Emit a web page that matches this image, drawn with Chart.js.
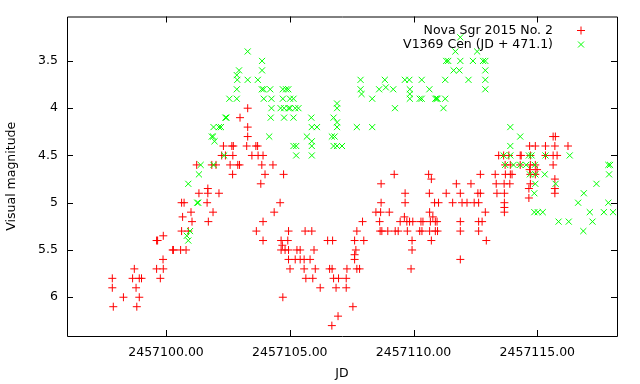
<!DOCTYPE html>
<html>
<head>
<meta charset="utf-8">
<script src="https://cdn.jsdelivr.net/npm/chart.js@4.4.0/dist/chart.umd.min.js"></script>
<style>
    html, body { margin: 0; padding: 0; background: #fff; }
</style>
</head>
<body>
<canvas id="Graph" width="640" height="384"></canvas>
<script>
// Nova Sgr 2015 No. 2 (red +)
const sgrJD = [
    2457097.83, 2457097.83, 2457097.87, 2457098.28, 2457098.65, 2457098.72, 2457098.79, 2457098.82, 2457098.92, 2457098.92,
    2457099.01, 2457099.62, 2457099.66, 2457099.62, 2457099.77, 2457099.89, 2457099.89, 2457099.88, 2457100.27, 2457100.30,
    2457100.59, 2457100.63, 2457100.63, 2457100.67, 2457100.73, 2457100.81, 2457100.90, 2457101.01, 2457101.05, 2457101.24,
    2457101.33, 2457101.66, 2457101.69, 2457101.69, 2457101.71, 2457101.85, 2457101.90, 2457102.02, 2457102.14, 2457102.25,
    2457102.32, 2457102.40, 2457102.59, 2457102.66, 2457102.69, 2457102.70, 2457102.72, 2457102.90, 2457102.97, 2457102.99,
    2457103.26, 2457103.30, 2457103.30, 2457103.30, 2457103.47, 2457103.63, 2457103.65, 2457103.70, 2457103.72, 2457103.83,
    2457103.87, 2457103.92, 2457103.92, 2457103.92, 2457104.00, 2457104.32, 2457104.37, 2457104.61, 2457104.65, 2457104.65,
    2457104.70, 2457104.72, 2457104.75, 2457104.81,
    2457104.92, 2457104.95, 2457104.95, 2457104.95, 2457105.01, 2457105.22, 2457105.29, 2457105.42, 2457105.42, 2457105.58,
    2457105.58, 2457105.62, 2457105.65, 2457105.82, 2457105.89, 2457105.93, 2457105.98, 2457106.03, 2457106.23, 2457106.53,
    2457106.61, 2457106.70, 2457106.71, 2457106.73, 2457106.77, 2457106.87, 2457106.95, 2457106.97, 2457107.28, 2457107.28,
    2457107.31, 2457107.55, 2457107.62, 2457107.62, 2457107.62, 2457107.67, 2457107.71, 2457107.71, 2457107.82, 2457107.94,
    2457107.99, 2457108.48, 2457108.63, 2457108.65, 2457108.67, 2457108.69, 2457108.69, 2457108.72, 2457108.96, 2457109.02,
    2457109.22, 2457109.26,
    2457109.38, 2457109.46, 2457109.63, 2457109.66, 2457109.66, 2457109.73, 2457109.75, 2457109.84, 2457109.90, 2457109.94,
    2457109.94, 2457109.97, 2457110.25, 2457110.30, 2457110.34, 2457110.38, 2457110.61, 2457110.64, 2457110.65, 2457110.65,
    2457110.68, 2457110.72, 2457110.72, 2457110.78, 2457110.85, 2457110.88, 2457110.88, 2457110.95, 2457110.97, 2457111.01,
    2457111.32, 2457111.58, 2457111.73, 2457111.89, 2457111.89, 2457111.89, 2457111.89, 2457111.96, 2457112.16, 2457112.32,
    2457112.45, 2457112.60, 2457112.63, 2457112.63, 2457112.63, 2457112.70, 2457112.70, 2457112.77, 2457112.90, 2457112.94,
    2457113.30, 2457113.34, 2457113.37, 2457113.44, 2457113.64, 2457113.66, 2457113.67, 2457113.67, 2457113.67, 2457113.67,
    2457113.70, 2457113.71,
    2457113.85, 2457113.89, 2457113.91, 2457113.91, 2457113.98, 2457114.31, 2457114.31, 2457114.35, 2457114.66, 2457114.66,
    2457114.69, 2457114.69, 2457114.72, 2457114.72, 2457114.72, 2457114.72, 2457114.92, 2457114.92, 2457114.92, 2457114.99,
    2457115.33, 2457115.33, 2457115.64, 2457115.64, 2457115.64, 2457115.71, 2457115.71, 2457115.71, 2457115.71, 2457115.73,
    2457115.80, 2457116.24
];
const sgrMag = [
    5.8, 5.9, 6.1, 6.0, 5.8, 5.7, 5.9, 6.1, 5.8, 6.0,
    5.8, 5.4, 5.4, 5.7, 5.8, 5.35, 5.7, 5.6, 5.5, 5.5,
    5.5, 5.0, 5.3, 5.15, 5.0, 5.5, 5.3, 5.1, 5.2, 4.6,
    4.9, 5.0, 4.85, 4.9, 5.2, 4.6, 5.1, 4.6, 4.9, 4.5,
    4.4, 4.5, 4.6, 4.4, 4.7, 4.5, 4.4, 4.6, 4.6, 4.1,
    4.4, 4.0, 4.2, 4.3, 4.5, 4.4, 5.3, 4.4, 4.5, 4.8,
    4.6, 4.5, 5.2, 5.4, 4.7, 4.6, 5.1, 5.0, 5.4, 5.5,
    5.45, 6.0, 4.7, 5.5,
    5.4, 5.3, 5.5, 5.6, 5.7, 5.6, 5.5, 5.5, 5.6, 5.6,
    5.7, 5.3, 5.8, 5.6, 5.3, 5.8, 5.5, 5.7, 5.9, 5.4,
    5.7, 6.3, 5.7, 5.4, 5.8, 5.9, 6.2, 5.8, 5.8, 5.9,
    5.7, 6.1, 5.4, 5.55, 5.6, 5.5, 5.3, 5.7, 5.7, 5.2,
    5.4, 5.1, 5.2, 5.3, 5.1, 4.8, 5.0, 5.3, 5.3, 5.1,
    4.7, 5.3,
    5.3, 5.2, 5.15, 4.9, 5.0, 5.2, 5.3, 5.2, 5.7, 5.4,
    5.5, 5.2, 5.3, 5.2, 5.3, 5.2, 4.7, 4.9, 5.1, 5.3,
    5.2, 4.75, 5.4, 5.15, 5.0, 5.2, 5.3, 5.2, 5.3, 5.0,
    4.9, 5.0, 4.8, 4.9, 5.2, 5.3, 5.6, 5.0, 5.0, 4.8,
    5.0, 4.9, 5.0, 5.2, 5.3, 4.7, 4.9, 5.2, 5.1, 5.4,
    4.7, 4.8, 4.9, 4.5, 4.5, 4.8, 4.9, 5.0, 5.05, 5.1,
    4.6, 4.7,
    4.5, 4.8, 4.6, 4.7, 4.7, 4.5, 4.6, 4.5, 4.85, 4.95,
    4.4, 4.65, 4.5, 4.6, 4.7, 4.8, 4.4, 4.6, 4.7, 4.65,
    4.4, 4.5, 4.3, 4.5, 4.6, 4.4, 4.75, 4.85, 4.9, 4.3,
    4.5, 4.4
];

// V1369 Cen, already shifted by JD + 471.1 (green x)
const cenJD = [
    2457100.84, 2457100.90, 2457100.90, 2457100.97, 2457101.26, 2457101.30, 2457101.33, 2457101.40, 2457101.85, 2457101.90,
    2457101.92, 2457101.92, 2457101.96, 2457102.14, 2457102.22, 2457102.35, 2457102.40, 2457102.44, 2457102.56, 2457102.86,
    2457102.86, 2457102.86, 2457102.88, 2457102.95, 2457103.30, 2457103.30, 2457103.71, 2457103.88, 2457103.88, 2457103.87,
    2457103.94, 2457103.95, 2457104.17, 2457104.21, 2457104.23, 2457104.26, 2457104.26, 2457104.63, 2457104.72, 2457104.77,
    2457104.77, 2457104.72, 2457104.85, 2457104.94, 2457104.95, 2457105.01, 2457105.01, 2457105.15, 2457105.15, 2457105.15,
    2457105.22, 2457105.26, 2457105.26, 2457105.35, 2457105.69, 2457105.87, 2457105.89, 2457105.89, 2457105.89, 2457105.89,
    2457106.10, 2457106.70, 2457106.77, 2457106.77, 2457106.81, 2457106.91, 2457106.91, 2457106.91, 2457106.91, 2457106.91,
    2457107.11, 2457107.71, 2457107.86, 2457107.86, 2457107.90, 2457108.33, 2457108.33, 2457108.61, 2457108.84, 2457108.88,
    2457109.18, 2457109.25, 2457109.65, 2457109.83, 2457109.85, 2457109.85, 2457109.85, 2457110.25, 2457110.33, 2457110.33,
    2457110.64, 2457110.88, 2457110.93, 2457110.97, 2457111.21, 2457111.28, 2457111.28, 2457111.32, 2457111.40, 2457111.62,
    2457111.69, 2457111.85, 2457111.89, 2457111.89, 2457112.22, 2457112.40, 2457112.57, 2457112.81, 2457112.90, 2457112.90,
    2457112.90, 2457112.90, 2457113.64, 2457113.70, 2457113.91, 2457113.91, 2457113.91, 2457114.04, 2457114.31, 2457114.31,
    2457114.55, 2457114.66, 2457114.70, 2457114.77, 2457114.88, 2457114.88, 2457114.90, 2457114.92, 2457114.92, 2457115.02,
    2457115.22, 2457115.30, 2457115.33, 2457115.74, 2457115.86, 2457116.27, 2457116.31, 2457116.65, 2457116.86, 2457116.88,
    2457117.12, 2457117.23, 2457117.39, 2457117.69, 2457117.87, 2457117.94, 2457117.90, 2457117.87, 2457118.06
];
const cenMag = [
    5.35, 4.8, 5.4, 5.3, 5.0, 5.0, 4.7, 4.6, 4.3, 4.3,
    4.2, 4.6, 4.35, 4.2, 4.2, 4.5, 4.1, 4.1, 3.9, 3.9,
    3.8, 3.65, 3.7, 3.6, 3.4, 3.7, 3.7, 3.5, 3.6, 3.8,
    3.8, 3.9, 4.3, 3.8, 4.1, 4.0, 3.9, 4.0, 3.8, 4.0,
    4.1, 3.9, 3.8, 3.8, 4.0, 3.9, 4.0, 3.9, 4.1, 4.4,
    4.0, 4.4, 4.5, 4.0, 4.3, 4.1, 4.2, 4.35, 4.4, 4.5,
    4.2, 4.3, 4.1, 4.4, 4.3, 3.95, 4.0, 4.15, 4.2, 4.4,
    4.4, 4.2, 3.7, 3.8, 3.85, 3.9, 4.2, 3.8, 3.7, 3.78,
    3.8, 4.0, 3.7, 3.7, 3.8, 3.85, 3.9, 3.9, 3.7, 3.9,
    3.8, 3.9, 3.9, 3.9, 4.0, 3.7, 3.9, 3.5, 3.5, 3.6,
    3.4, 3.6, 3.5, 3.25, 3.7, 3.5, 3.4, 3.5, 3.5, 3.6,
    3.7, 3.8, 4.5, 4.6, 4.2, 4.4, 4.5, 4.6, 4.3, 4.6,
    4.6, 4.5, 4.7, 4.5, 4.9, 5.1, 4.6, 4.8, 4.7, 5.1,
    5.1, 4.7, 4.5, 4.8, 5.2, 5.2, 4.5, 5.0, 5.3, 4.9,
    5.1, 5.2, 4.8, 5.1, 4.6, 4.6, 4.7, 5.0, 5.1
];

const seriesNames = ['Nova Sgr 2015 No. 2', 'V1369 Cen (JD + 471.1)'];
const jdTicks = [2457100, 2457105, 2457110, 2457115];
const magTicks = [3.5, 4, 4.5, 5, 5.5, 6];

const font = { family: 'DejaVu Sans', size: 12.5 };

function toPoints(xs, ys) {
    return xs.map((x, i) => ({ x: x, y: ys[i] }));
}

// gnuplot style box: frame, inward ticks on all sides, key in the top right corner
const framePlugin = {
    id: 'frame',
    afterDraw(chart) {
        const ctx = chart.ctx;
        const a = chart.chartArea;
        const sx = chart.scales.x;
        const sy = chart.scales.y;
        ctx.save();
        ctx.strokeStyle = '#000';
        ctx.lineWidth = 1;
        ctx.beginPath();
        ctx.rect(a.left + 0.5, a.top + 0.5, a.right - a.left, a.bottom - a.top);
        jdTicks.forEach(v => {
            const px = Math.round(sx.getPixelForValue(v)) + 0.5;
            ctx.moveTo(px, a.bottom); ctx.lineTo(px, a.bottom - 6);
            ctx.moveTo(px, a.top); ctx.lineTo(px, a.top + 6);
        });
        magTicks.forEach(v => {
            const py = Math.round(sy.getPixelForValue(v)) + 0.5;
            ctx.moveTo(a.left, py); ctx.lineTo(a.left + 6, py);
            ctx.moveTo(a.right, py); ctx.lineTo(a.right - 6, py);
        });
        ctx.stroke();

        // key
        ctx.font = font.size + 'px ' + font.family;
        ctx.fillStyle = '#000';
        ctx.textAlign = 'right';
        ctx.textBaseline = 'middle';
        const keyX = a.right - 64;
        const rowY = [a.top + 14, a.top + 28];
        seriesNames.forEach((name, i) => ctx.fillText(name, keyX, rowY[i]));
        const mx = a.right - 36;
        ctx.strokeStyle = '#ff0000';
        ctx.beginPath();
        ctx.moveTo(mx - 4, rowY[0]); ctx.lineTo(mx + 4, rowY[0]);
        ctx.moveTo(mx, rowY[0] - 4); ctx.lineTo(mx, rowY[0] + 4);
        ctx.stroke();
        ctx.strokeStyle = '#00ff00';
        ctx.beginPath();
        ctx.moveTo(mx - 3, rowY[1] - 3); ctx.lineTo(mx + 3, rowY[1] + 3);
        ctx.moveTo(mx - 3, rowY[1] + 3); ctx.lineTo(mx + 3, rowY[1] - 3);
        ctx.stroke();
        ctx.restore();
    }
};

const ctx = document.getElementById('Graph').getContext('2d');

new Chart(ctx, {
    type: 'scatter',
    data: {
        datasets: [{
            label: seriesNames[0],
            data: toPoints(sgrJD, sgrMag),
            pointStyle: 'cross',
            radius: 4,
            borderColor: '#ff0000',
            backgroundColor: '#ff0000',
            borderWidth: 1,
            order: 1
        }, {
            label: seriesNames[1],
            data: toPoints(cenJD, cenMag),
            pointStyle: 'crossRot',
            radius: 4.3,
            borderColor: '#00ff00',
            backgroundColor: '#00ff00',
            borderWidth: 1,
            order: 0
        }]
    },
    options: {
        responsive: false,
        animation: false,
        devicePixelRatio: 1,
        layout: { padding: { top: 16, right: 23, left: 0, bottom: 0 } },
        plugins: {
            legend: { display: false },
            tooltip: { enabled: false }
        },
        scales: {
            x: {
                type: 'linear',
                min: 2457096,
                max: 2457118.22,
                grid: { display: false, drawTicks: false },
                border: { display: false },
                afterBuildTicks: s => { s.ticks = jdTicks.map(v => ({ value: v })); },
                afterFit: s => { s.height = 48; },
                ticks: {
                    callback: v => v.toFixed(2),
                    color: '#000',
                    font: font,
                    padding: 9,
                    maxRotation: 0,
                    autoSkip: false
                },
                title: {
                    display: true,
                    text: 'JD',
                    color: '#000',
                    font: font,
                    padding: { top: 0, bottom: 3 }
                }
            },
            y: {
                type: 'linear',
                reverse: true,
                min: 3.03,
                max: 6.41,
                grid: { display: false, drawTicks: false },
                border: { display: false },
                afterBuildTicks: s => { s.ticks = magTicks.map(v => ({ value: v })); },
                afterFit: s => { s.width = 67; },
                ticks: {
                    callback: v => String(v),
                    color: '#000',
                    font: font,
                    padding: 9,
                    autoSkip: false
                },
                title: {
                    display: true,
                    text: 'Visual magnitude',
                    color: '#000',
                    font: font,
                    padding: { top: 4, bottom: 0 }
                }
            }
        }
    },
    plugins: [framePlugin]
});
</script>
</body>
</html>
